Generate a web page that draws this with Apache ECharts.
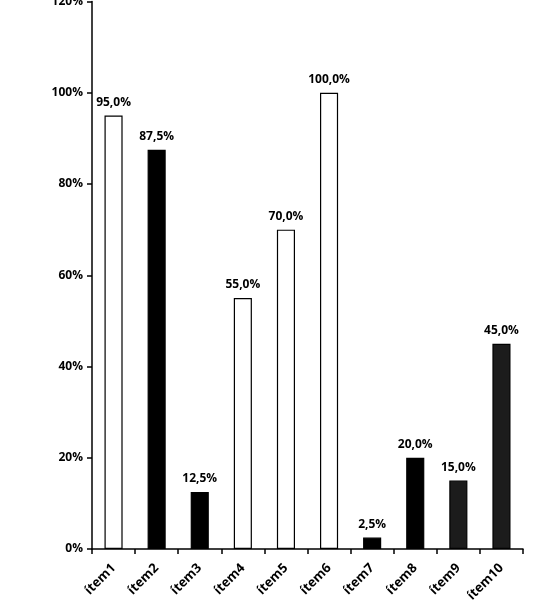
<!DOCTYPE html>
<html><head><meta charset="utf-8">
<script src="https://cdn.jsdelivr.net/npm/echarts@6/dist/echarts.min.js"></script>
<style>html,body{margin:0;padding:0;background:#fff}#c{width:541px;height:615px}</style>
</head><body><div id="c"></div>
<script>
const categories = ['ítem1','ítem2','ítem3','ítem4','ítem5','ítem6','ítem7','ítem8','ítem9','ítem10'];
const values = [95.0, 87.5, 12.5, 55.0, 70.0, 100.0, 2.5, 20.0, 15.0, 45.0];
const fills = ['#ffffff','#000000','#000000','#ffffff','#ffffff','#ffffff','#000000','#000000','#1c1c1c','#1c1c1c'];
const yTicks = [0, 20, 40, 60, 80, 100, 120];

const font = '"Open Sans", "Liberation Sans", sans-serif';
const chart = echarts.init(document.getElementById('c'), null, {renderer:'canvas'});
chart.setOption({
  animation:false,
  backgroundColor:'#fff',
  grid:{left:92, right:18, top:1.5, bottom:66, containLabel:false, outerBoundsMode:'none'},
  xAxis:{
    type:'category', data:categories,
    axisLine:{lineStyle:{color:'#000', width:1.5}},
    axisTick:{show:true, length:5, lineStyle:{color:'#000', width:1.5}},
    axisLabel:{rotate:45, color:'#000', fontWeight:'bold', fontSize:13, fontFamily:font, margin:17}
  },
  yAxis:{
    type:'value', min:yTicks[0], max:yTicks[yTicks.length-1], interval:20,
    axisLine:{show:true, lineStyle:{color:'#000', width:1.5}},
    axisTick:{show:true, length:5, lineStyle:{color:'#000', width:1.5}},
    splitLine:{show:false},
    axisLabel:{color:'#000', fontWeight:'bold', fontSize:12, fontFamily:font, margin:9, formatter:v=>v+'%'}
  },
  series:[{
    type:'bar', barWidth:'42%',
    data:values.map((v,i)=>({value:v, itemStyle:{color:fills[i], borderColor:'#000', borderWidth:1.2}})),
    label:{show:true, position:'top', distance:7, color:'#000', fontWeight:'bold', fontSize:12, fontFamily:font,
      formatter:p=>p.value.toFixed(1).replace('.',',')+'%'}
  }]
});
</script></body></html>
